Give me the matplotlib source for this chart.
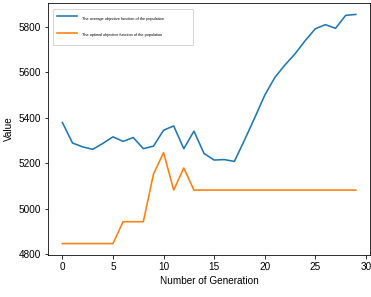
import matplotlib
matplotlib.use("Agg")
import matplotlib.pyplot as plt

generations = list(range(30))
avg_objective = [5380, 5290, 5273, 5262, 5288, 5317, 5297, 5314, 5265, 5276,
                 5346, 5365, 5265, 5342, 5244, 5215, 5217, 5209, 5303, 5400,
                 5500, 5578, 5633, 5682, 5740, 5792, 5810, 5794, 5851, 5855]
opt_objective = [4848, 4848, 4848, 4848, 4848, 4848, 4944, 4944, 4944, 5153,
                 5248, 5083, 5180, 5083, 5083, 5083, 5083, 5083, 5083, 5083,
                 5083, 5083, 5083, 5083, 5083, 5083, 5083, 5083, 5083, 5083]
labels = ["The average objective function of the population",
          "The optimal objective function of the population"]

plt.rcParams['font.family'] = ['Liberation Sans', 'DejaVu Sans']
plt.rcParams['font.size'] = 10

fig = plt.figure(figsize=(371 / 72, 297 / 72), dpi=72)
ax = fig.add_axes([0.1286, 0.1414, 0.87, 0.8486])
ax.plot(generations, avg_objective, color='#1f77b4', lw=1.6, label=labels[0])
ax.plot(generations, opt_objective, color='#ff7f0e', lw=1.6, label=labels[1])
ax.set_xlabel("Number of Generation")
ax.set_ylabel("Value")
ax.set_xticks([0, 5, 10, 15, 20, 25, 30])
ax.set_yticks([4800, 5000, 5200, 5400, 5600, 5800])

ax.legend(loc='upper left', bbox_to_anchor=(0.016, 0.5, 0.434, 0.478),
          mode='expand', borderaxespad=0, fontsize=3.9, handlelength=5.0,
          handletextpad=1.2, handleheight=4.0, borderpad=1.14, labelspacing=1.46)

fig.savefig("out.png", dpi=72)
